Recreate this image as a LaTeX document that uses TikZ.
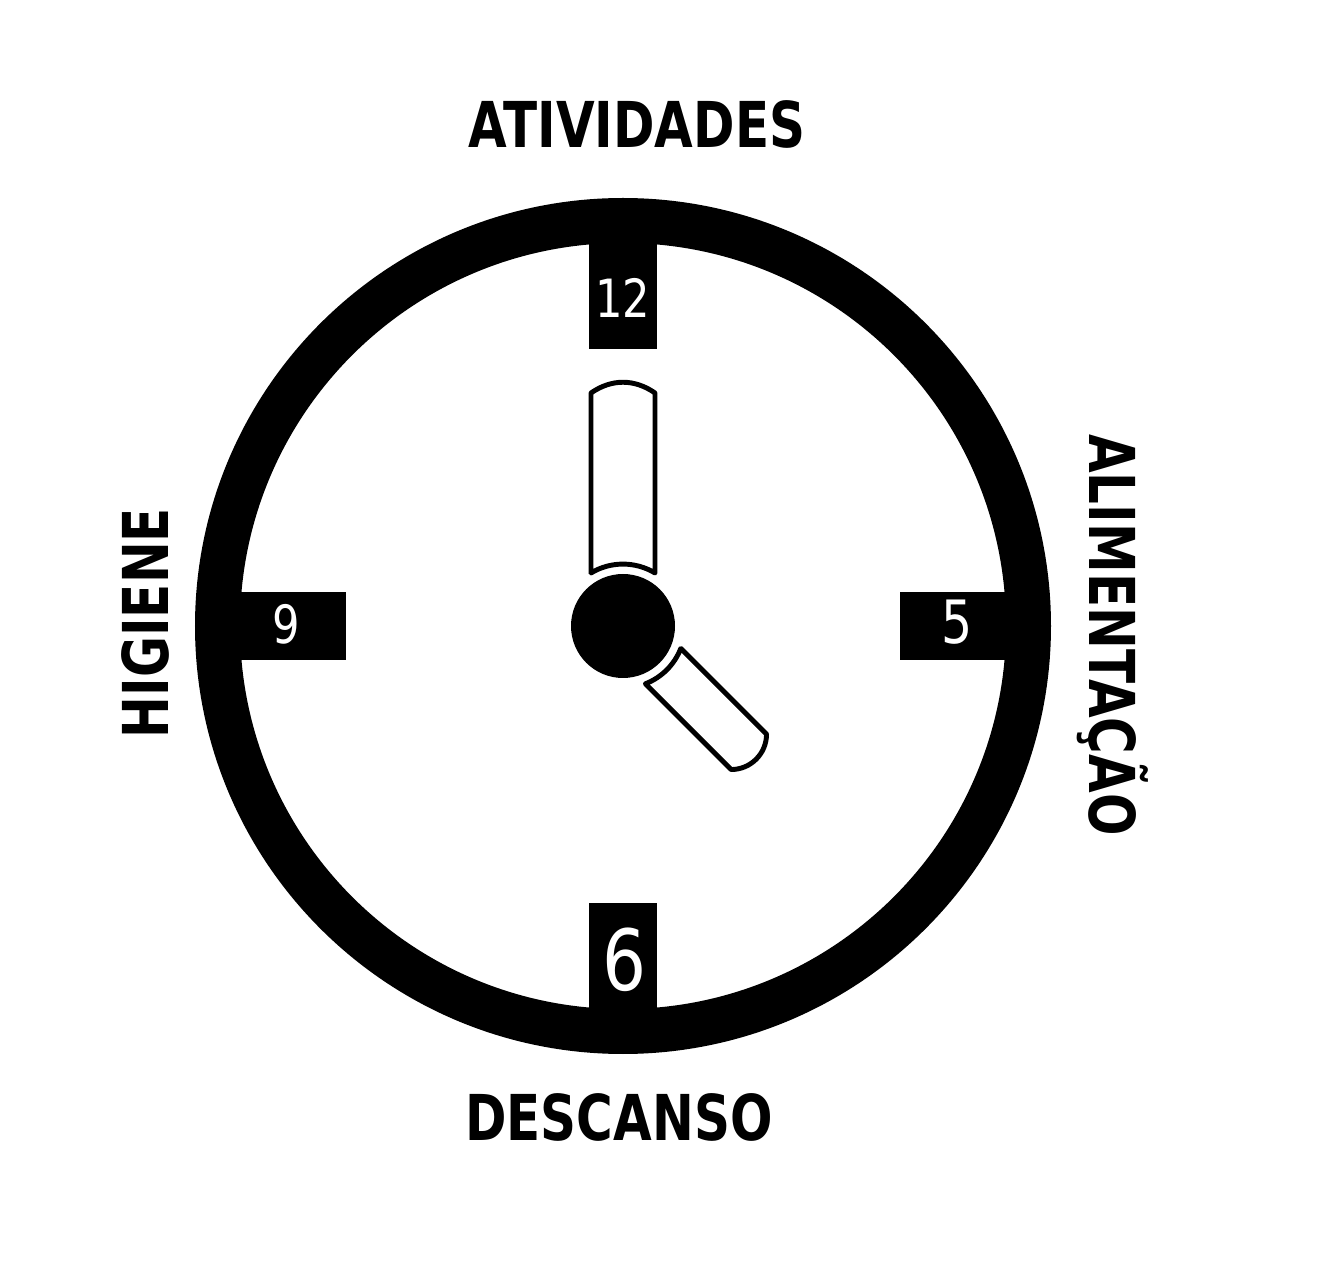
\documentclass[tikz,border=0pt]{standalone}
\usepackage{fontspec}
\setmainfont{DejaVu Sans}
\newfontfamily\topicfont{DejaVu Sans}[FakeStretch=0.79]
\newfontfamily\digitfont{DejaVu Sans}[FakeStretch=0.82]
\usetikzlibrary{positioning}

\begin{document}
\begin{tikzpicture}[x=0.02cm,y=0.02cm,
  topic/.style={font=\topicfont\bfseries\fontsize{36}{36}\selectfont,inner sep=0pt},
  numeral/.style={text=white,inner sep=0pt},
  tabbox/.style={fill=black},
  hand/.style={draw=black,line width=2.8pt,fill=white,line join=round}]
  \useasboundingbox[fill=white] (-623,-644) rectangle (701,626);
  \coordinate (o) at (0,0);
  % dial ring and hour tabs
  \draw[line width=0.9cm] (o) circle (405.5);
  \foreach \a in {0,90,180,270}
    \fill[tabbox,rotate=\a] (-34,277) rectangle (34,400);
  \node[numeral,font=\digitfont\fontsize{30}{30}\selectfont] (n12) at (0,328) {12};
  \node[numeral,font=\digitfont\fontsize{30}{30}\selectfont] (n9) at (-337,2) {9};
  \node[numeral,font=\digitfont\fontsize{34}{34}\selectfont] (n5) at (334,4) {5};
  \node[numeral,font=\digitfont\fontsize{48}{48}\selectfont] (n6) at (1,-334) {6};
  % hands
  \draw[hand] (-32,53) -- (-32,233) to[bend left=35] (32,233) -- (32,53)
    arc[start angle=58.9,end angle=121.1,radius=62] -- cycle;
  \draw[hand,rotate=-135] (-25,56.7) -- (-25,178) to[bend left=45] (25,178) -- (25,56.7)
    arc[start angle=66.2,end angle=113.8,radius=62] -- cycle;
  \fill (o) circle (52);
  % topics
  \node[topic] (act) at (14,502) {ATIVIDADES};
  \node[topic] (rest) at (-4,-491) {DESCANSO};
  \node[topic,rotate=90] (hyg) at (-478,3) {HIGIENE};
  \node[topic,rotate=-90] (food) at (490,-9) {ALIMENTAÇÃO};
\end{tikzpicture}
\end{document}
